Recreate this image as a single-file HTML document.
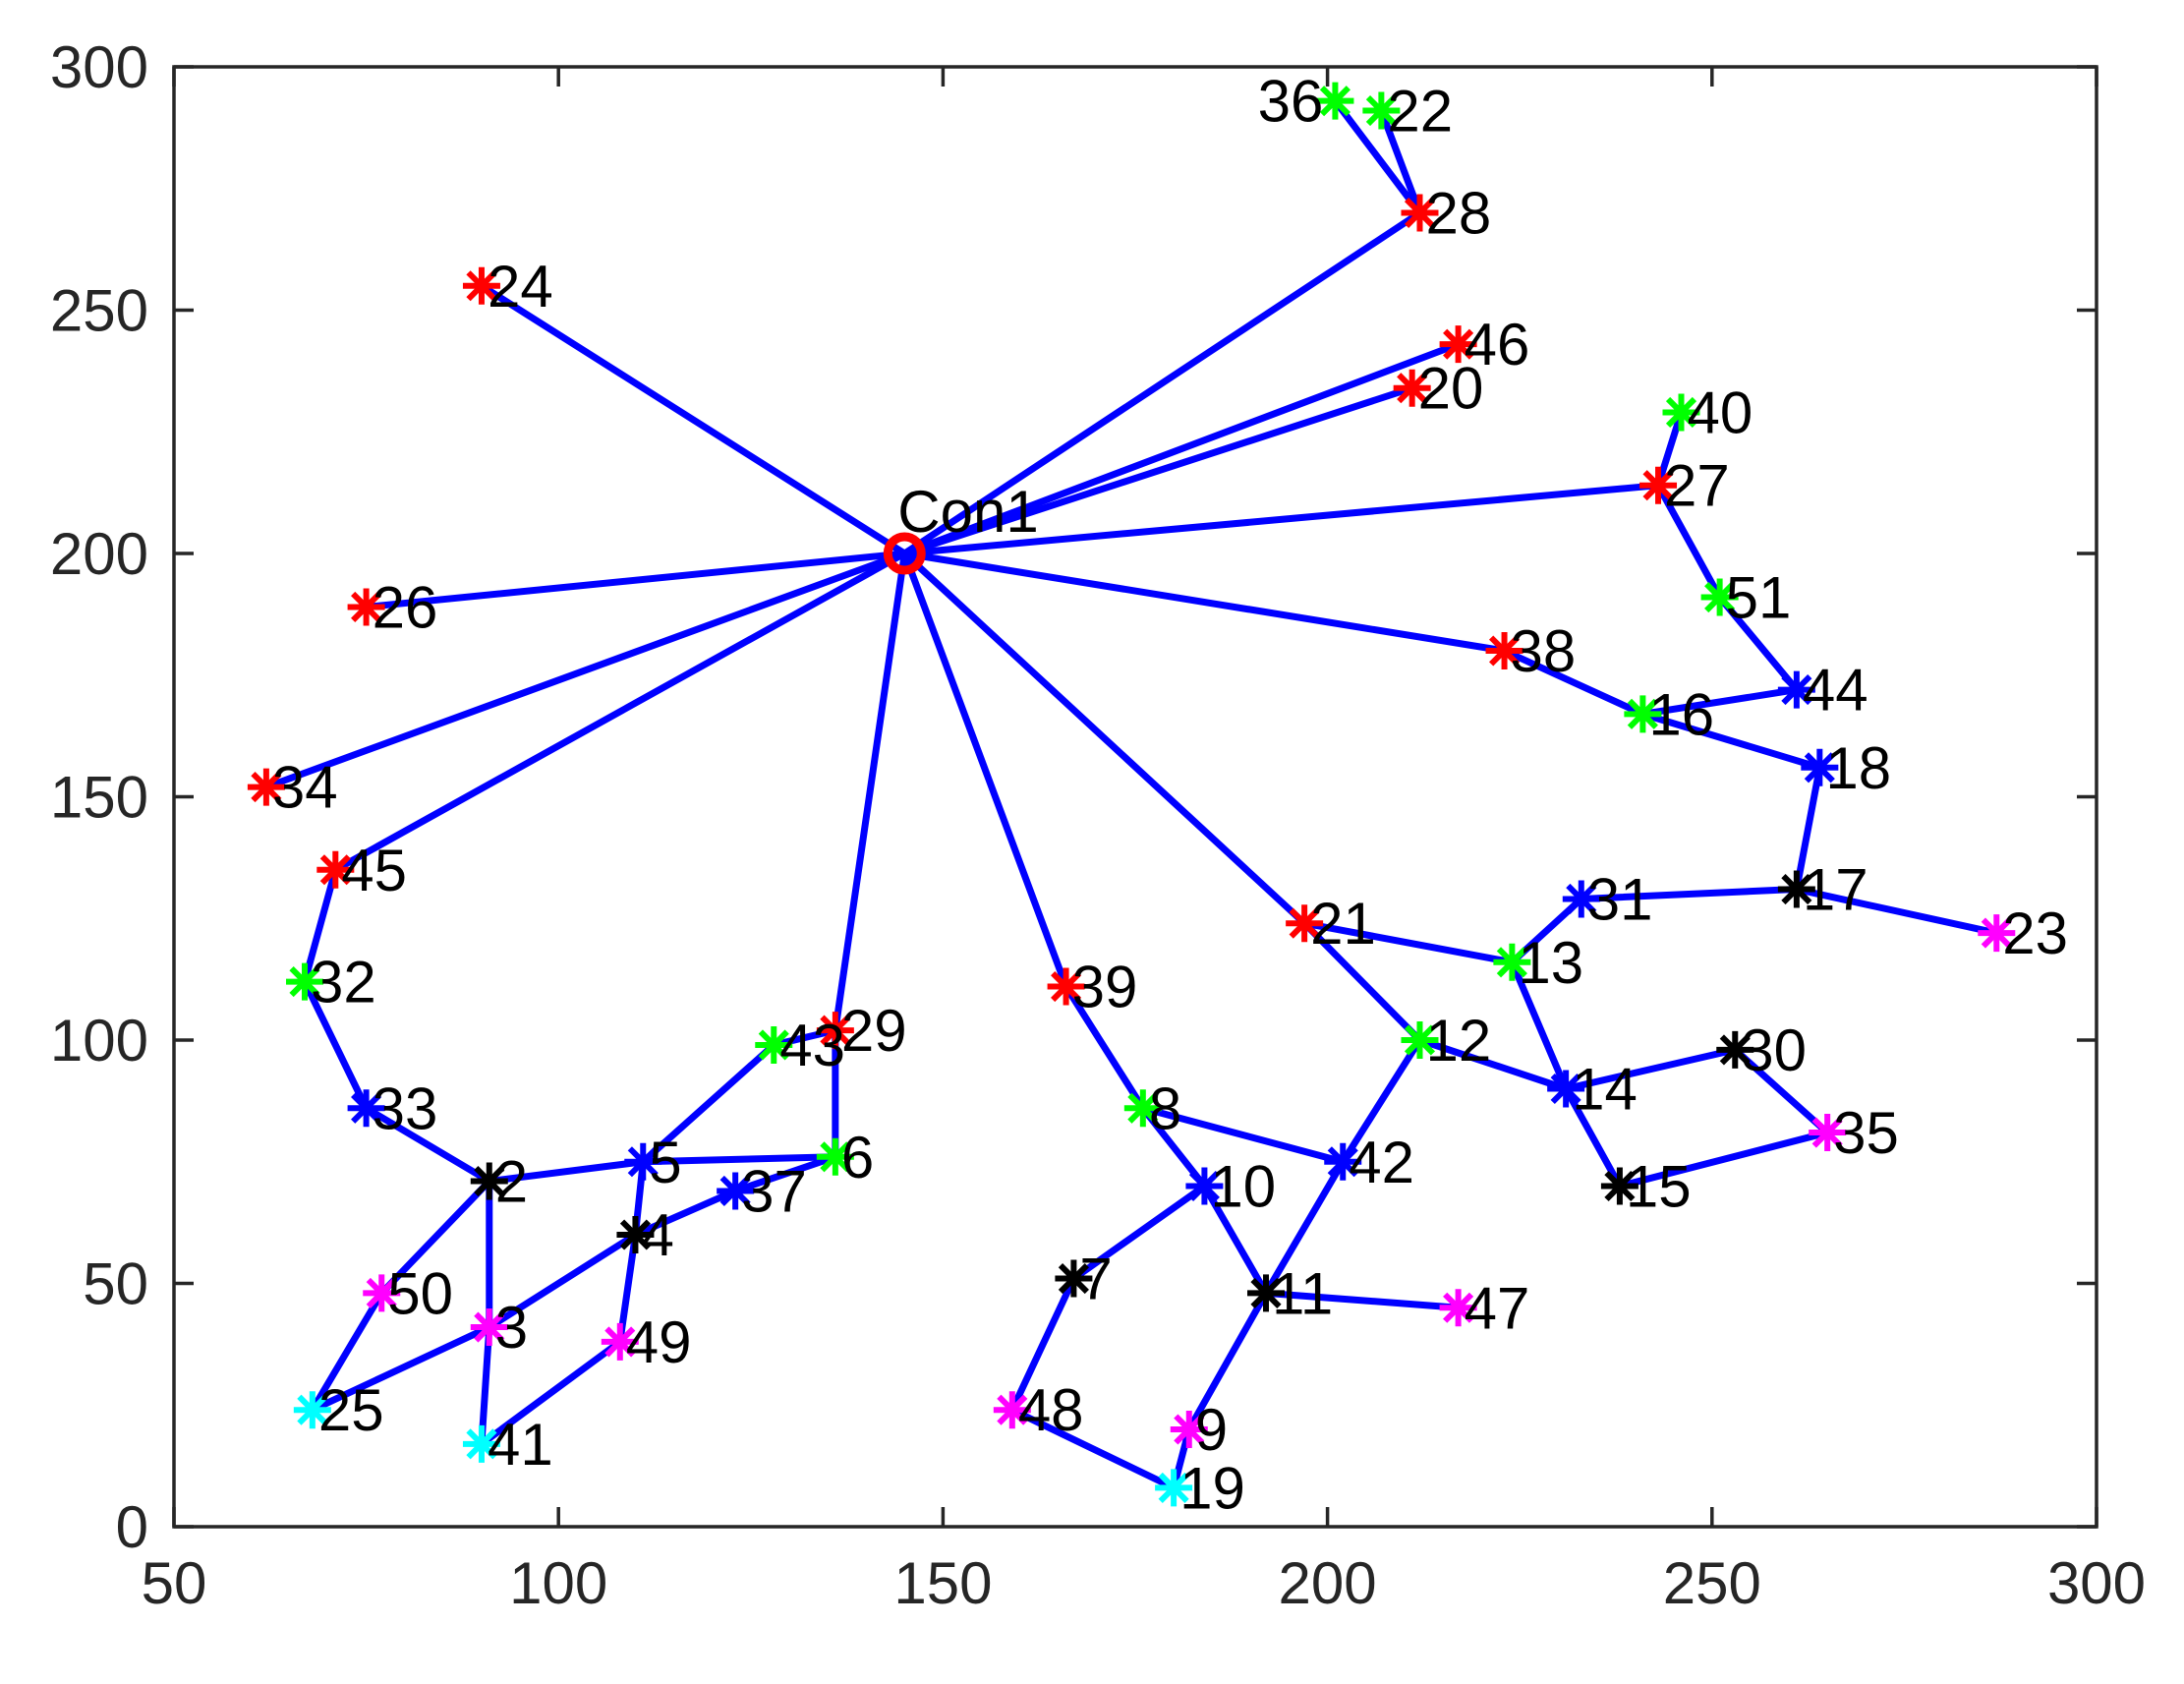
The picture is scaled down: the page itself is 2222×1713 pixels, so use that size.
<!DOCTYPE html>
<html><head><meta charset="utf-8">
<style>html,body{margin:0;padding:0;background:#fff}svg{display:block}</style>
</head><body>
<svg id="s" xmlns="http://www.w3.org/2000/svg" width="2222" height="1713" viewBox="0 0 2222 1713" font-family="Liberation Sans, Arial, sans-serif">
<rect width="2222" height="1713" fill="#fff"/>
<g id="lines" stroke="#0000ff" stroke-width="7" stroke-linecap="round"></g>
<g id="marks"></g>
<g id="labels" font-size="60" fill="#000"></g>
<g id="axes" stroke="#262626" stroke-width="3.5" fill="none"></g>
<g id="ticklabels" font-size="60" fill="#262626"></g>
</svg>
<script>
var L=177,R=2133,T=68,B=1553;
function X(x){return L+(x-50)*(R-L)/250;}
function Y(y){return B-y*(B-T)/300;}
var N={
Con1:[145,200,'c'],
24:[90,255,'r'],26:[75,189,'r'],34:[62,152,'r'],45:[71,135,'r'],29:[136,102,'r'],39:[166,111,'r'],21:[197,124,'r'],38:[223,180,'r'],27:[243,214,'r'],20:[211,234,'r'],46:[217,243,'r'],28:[212,270,'r'],
36:[201,293,'g'],22:[207,291,'g'],40:[246,229,'g'],51:[251,191,'g'],16:[241,167,'g'],32:[67,112,'g'],43:[128,99,'g'],6:[136,76,'g'],8:[176,86,'g'],12:[212,100,'g'],13:[224,116,'g'],
33:[75,86,'b'],5:[111,75,'b'],37:[123,69,'b'],10:[184,70,'b'],42:[202,75,'b'],14:[231,90,'b'],31:[233,129,'b'],44:[261,172,'b'],18:[264,156,'b'],
2:[91,71,'k'],4:[110,60,'k'],7:[167,51,'k'],11:[192,48,'k'],15:[238,70,'k'],30:[253,98,'k'],17:[261,131,'k'],
50:[77,48,'m'],3:[91,41,'m'],49:[108,38,'m'],48:[159,24,'m'],9:[182,20,'m'],47:[217,45,'m'],35:[265,81,'m'],23:[287,122,'m'],
25:[68,24,'y'],41:[90,17,'y'],19:[180,8,'y']};
var E=[['Con1',24],['Con1',28],['Con1',46],['Con1',20],['Con1',27],['Con1',38],['Con1',26],['Con1',34],['Con1',45],['Con1',29],['Con1',39],['Con1',21],
[36,28],[22,28],[27,40],[27,51],[51,44],[44,16],[38,16],[16,18],[18,17],[17,31],[17,23],[31,13],[21,13],[21,12],[13,14],[12,14],[14,30],[14,15],[30,35],[15,35],[12,42],[42,11],[8,42],[39,8],[8,10],[10,11],[11,47],[11,9],[9,19],[10,7],[7,48],[48,19],
[45,32],[32,33],[33,2],[2,5],[5,6],[5,43],[43,29],[29,6],[6,37],[37,4],[5,4],[4,49],[4,3],[49,41],[2,3],[3,41],[2,50],[50,25],[25,3]];
var C={r:'#ff0000',g:'#00ff00',b:'#0000ff',k:'#000000',m:'#ff00ff',y:'#00ffff',c:'#ff0000'};
var lh='',mh='',th='';
E.forEach(function(e){var a=N[e[0]],b=N[e[1]];lh+='<line x1="'+X(a[0])+'" y1="'+Y(a[1])+'" x2="'+X(b[0])+'" y2="'+Y(b[1])+'"/>';});
var r=19;
for(var k in N){var n=N[k],x=X(n[0]),y=Y(n[1]),c=C[n[2]];
 if(k==='Con1'){mh+='<circle cx="'+x+'" cy="'+y+'" r="17" fill="none" stroke="#ff0000" stroke-width="9"/>';
  th+='<text x="'+(x-7)+'" y="'+(y-22)+'">Con1</text>';continue;}
 var d=r*0.7071;
 mh+='<g stroke="'+c+'" stroke-width="6"><line x1="'+(x-r)+'" y1="'+y+'" x2="'+(x+r)+'" y2="'+y+'"/><line x1="'+x+'" y1="'+(y-r)+'" x2="'+x+'" y2="'+(y+r)+'"/><line x1="'+(x-d)+'" y1="'+(y-d)+'" x2="'+(x+d)+'" y2="'+(y+d)+'"/><line x1="'+(x-d)+'" y1="'+(y+d)+'" x2="'+(x+d)+'" y2="'+(y-d)+'"/></g>';
 if(k==='36') th+='<text x="'+(x-12)+'" y="'+(y+21)+'" text-anchor="end">'+k+'</text>';
 else th+='<text x="'+(x+6)+'" y="'+(y+21)+'">'+k+'</text>';
}
document.getElementById('lines').innerHTML=lh;
document.getElementById('marks').innerHTML=mh;
document.getElementById('labels').innerHTML=th;
var ah='<rect x="'+L+'" y="'+T+'" width="'+(R-L)+'" height="'+(B-T)+'"/>',tl='';
for(var v=50;v<=300;v+=50){var x=X(v);ah+='<line x1="'+x+'" y1="'+B+'" x2="'+x+'" y2="'+(B-20)+'"/><line x1="'+x+'" y1="'+T+'" x2="'+x+'" y2="'+(T+20)+'"/>';
 tl+='<text x="'+x+'" y="'+(B+78)+'" text-anchor="middle">'+v+'</text>';}
for(var v=0;v<=300;v+=50){var y=Y(v);ah+='<line x1="'+L+'" y1="'+y+'" x2="'+(L+20)+'" y2="'+y+'"/><line x1="'+R+'" y1="'+y+'" x2="'+(R-20)+'" y2="'+y+'"/>';
 tl+='<text x="'+(L-26)+'" y="'+(y+21)+'" text-anchor="end">'+v+'</text>';}
document.getElementById('axes').innerHTML=ah;
document.getElementById('ticklabels').innerHTML=tl;
</script>
</body></html>
